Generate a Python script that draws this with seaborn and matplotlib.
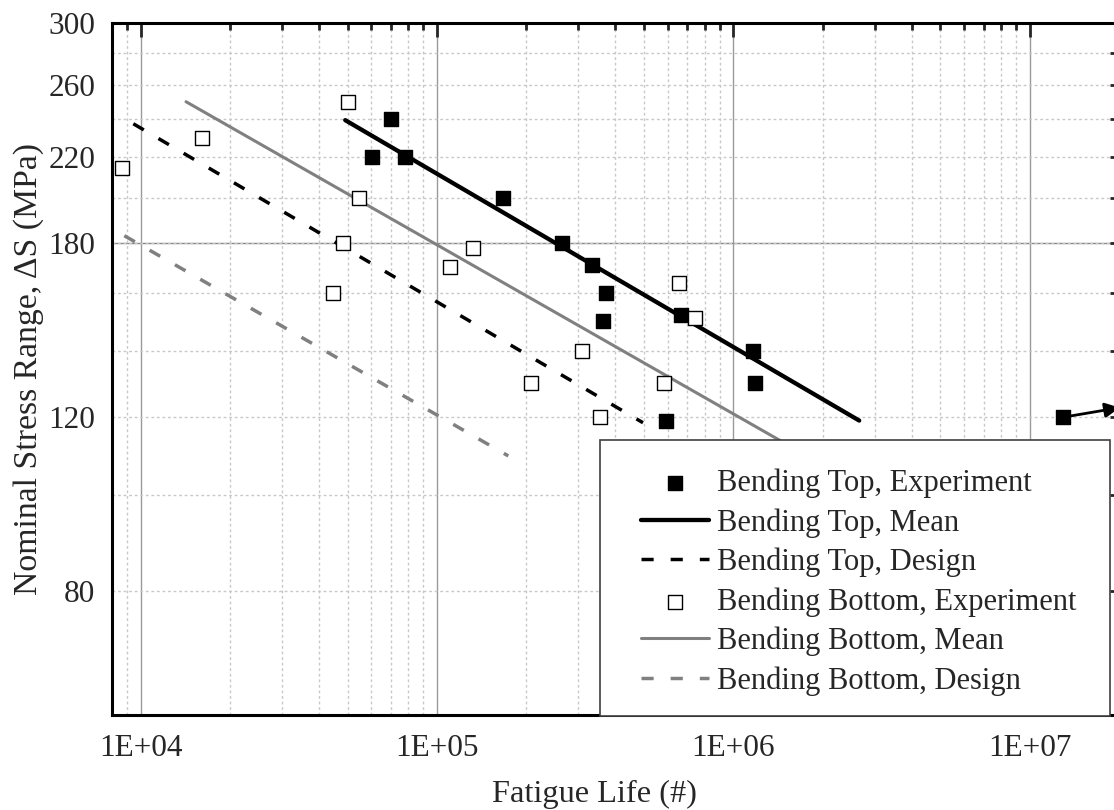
import numpy as np
import matplotlib
matplotlib.use("Agg")
import matplotlib.pyplot as plt
from matplotlib.patches import Rectangle
from matplotlib.ticker import FixedLocator, FixedFormatter, NullFormatter
import seaborn as sns

# Bending Top experiments (last point is a run-out)
top_exp_N = [69800, 60400, 78200, 167000, 264800, 334300, 371000, 364200,
             664500, 1168000, 1184000, 591300, 13000000]
top_exp_S = [240, 220, 220, 200, 180, 171, 160, 150, 152, 140, 130, 119, 120]

# Bending Bottom experiments
bot_exp_N = [8650, 16070, 49950, 54400, 48290, 44670, 132600, 110600,
             307900, 207200, 655700, 742800, 582300, 354900]
bot_exp_S = [214, 230, 250, 200, 180, 160, 178, 170, 140, 130, 164, 151, 130, 120]

# S-N curves (straight lines in log-log space, end points)
top_mean_N = [49000, 2660000]
top_mean_S = [239.5, 119.0]
top_design_N = [9440, 495700]
top_design_S = [237.5, 118.4]
bot_mean_N = [14220, 1700000]
bot_mean_S = [250.0, 110.4]
bot_design_N = [8805, 174000]
bot_design_S = [183.0, 109.6]

# run-out specimen
runout_N = [13000000]
runout_S = [120]

x_major = [1e4, 1e5, 1e6, 1e7]
x_labels = ["1E+04", "1E+05", "1E+06", "1E+07"]
y_major = [80, 120, 180, 220, 260, 300]
y_minor = [100, 140, 160, 200, 240, 280]

sns.set_style("white")
plt.rcParams["font.family"] = ["Liberation Serif", "DejaVu Serif"]

FS = 22.5
GRAY = "#808080"

fig = plt.figure(figsize=(11.14, 8.10), dpi=100)
W, H = 1114.0, 810.0
left, right, top, bottom = 112.0, 1118.8, 23.4, 714.7
ax = fig.add_axes([left / W, 1 - bottom / H, (right - left) / W, (bottom - top) / H])
ax.set_xscale("log")
ax.set_yscale("log")
ax.set_xlim(8000, 2e7)
ax.set_ylim(60, 300)

# grid
ax.set_axisbelow(True)
ax.xaxis.grid(True, which="major", color="#9a9a9a", linestyle="-", linewidth=1.0)
ax.xaxis.grid(True, which="minor", color="#c8c8c8", linestyle=(0, (2, 2)), linewidth=1.0)
ax.yaxis.grid(True, which="both", color="#c8c8c8", linestyle=(0, (2, 2)), linewidth=1.0)
ax.axhline(180, color="#878787", linewidth=1.0, zorder=0.5)

# S-N lines
sns.lineplot(x=top_mean_N, y=top_mean_S, ax=ax, color="black", linewidth=3.1,
             label="Bending Top, Mean", errorbar=None, zorder=2)
sns.lineplot(x=top_design_N, y=top_design_S, ax=ax, color="black", linewidth=2.5,
             linestyle=(0, (3.5, 4.9)), label="Bending Top, Design", errorbar=None, zorder=2)
sns.lineplot(x=bot_mean_N, y=bot_mean_S, ax=ax, color=GRAY, linewidth=2.2,
             label="Bending Bottom, Mean", errorbar=None, zorder=2)
sns.lineplot(x=bot_design_N, y=bot_design_S, ax=ax, color=GRAY, linewidth=2.5,
             linestyle=(0, (3.5, 4.9)), label="Bending Bottom, Design", errorbar=None, zorder=2)

# experiments
sns.scatterplot(x=top_exp_N, y=top_exp_S, ax=ax, marker="s", s=90, color="black",
                edgecolor="black", linewidth=1.0, label="Bending Top, Experiment", zorder=3)
sns.scatterplot(x=bot_exp_N, y=bot_exp_S, ax=ax, marker="s", s=90, color="white",
                edgecolor="black", linewidth=1.0, label="Bending Bottom, Experiment", zorder=3)

# run-out arrow
for n, s in zip(runout_N, runout_S):
    ax.annotate("", xy=(n * 1.55, s * 1.022), xytext=(n * 1.03, s * 1.001),
                arrowprops=dict(arrowstyle="-|>", color="black", lw=2.0,
                                mutation_scale=22, shrinkA=0, shrinkB=0),
                annotation_clip=False, zorder=3)

# ticks
ax.xaxis.set_major_locator(FixedLocator(x_major))
ax.xaxis.set_major_formatter(FixedFormatter(x_labels))
ax.yaxis.set_major_locator(FixedLocator(y_major))
ax.yaxis.set_major_formatter(FixedFormatter([str(v) for v in y_major]))
ax.yaxis.set_minor_locator(FixedLocator(y_minor))
ax.yaxis.set_minor_formatter(NullFormatter())
ax.tick_params(axis="x", which="major", direction="in", length=10, width=2,
               top=True, labelsize=FS, pad=14)
ax.tick_params(axis="x", which="minor", direction="in", length=5, width=2, top=True)
ax.tick_params(axis="y", which="both", direction="in", length=6.5, width=2,
               right=True, labelsize=FS, pad=12)
for sp in ax.spines.values():
    sp.set_visible(True)
    sp.set_linewidth(2.2)
    sp.set_color("black")

ax.set_xlabel("Fatigue Life (#)", fontsize=23.3)
ax.set_ylabel("Nominal Stress Range, ΔS (MPa)", fontsize=24.3)
ax.xaxis.set_label_coords(0.4787, -0.094)
ax.yaxis.set_label_coords(-0.068, 0.5)

# legend box
box = Rectangle((600.4 / W, 1 - 715.6 / H), (1109.6 - 600.4) / W, (715.6 - 440.4) / H,
                transform=fig.transFigure, facecolor="white", edgecolor="#404040",
                linewidth=1.2, clip_on=False, zorder=9)
ax.add_patch(box)

# legend entries in a fixed order
order = ["Bending Top, Experiment", "Bending Top, Mean", "Bending Top, Design",
         "Bending Bottom, Experiment", "Bending Bottom, Mean", "Bending Bottom, Design"]
handles, labels = ax.get_legend_handles_labels()
hmap = dict(zip(labels, handles))
leg = ax.legend([hmap[k] for k in order], order, loc="upper left",
                bbox_to_anchor=(640.6 / W, 1 - 468.5 / H), bbox_transform=fig.transFigure,
                borderaxespad=0, borderpad=0, fontsize=22.0, frameon=False,
                handlelength=2.24, handletextpad=0.27, labelspacing=0.328)
leg.set_zorder(10)

fig.savefig("out.png", dpi=100)
